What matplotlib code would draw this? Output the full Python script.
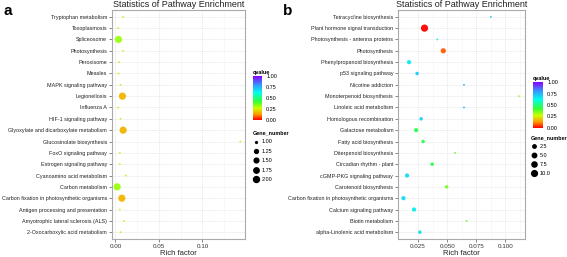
import numpy as np
import matplotlib
matplotlib.use('Agg')
import matplotlib.pyplot as plt
from matplotlib.colors import LinearSegmentedColormap, Normalize
from matplotlib.lines import Line2D
from matplotlib.colorbar import ColorbarBase

plt.rcParams['font.family'] = ['Liberation Sans', 'DejaVu Sans']

# panel a data (top to bottom)
a_pathways = ['Tryptophan metabolism', 'Toxoplasmosis', 'Spliceosome', 'Photosynthesis',
              'Peroxisome', 'Measles', 'MAPK signaling pathway', 'Legionellosis', 'Influenza A',
              'HIF-1 signaling pathway', 'Glyoxylate and dicarboxylate metabolism',
              'Glucosinolate biosynthesis', 'FoxO signaling pathway', 'Estrogen signaling pathway',
              'Cyanoamino acid metabolism', 'Carbon metabolism',
              'Carbon fixation in photosynthetic organisms', 'Antigen processing and presentation',
              'Amyotrophic lateral sclerosis (ALS)', '2-Oxocarboxylic acid metabolism']
a_rich = [0.0088, 0.0030, 0.0035, 0.0088, 0.0042, 0.0035, 0.0058, 0.0080, 0.0030, 0.0058,
          0.0088, 0.1436, 0.0050, 0.0050, 0.0119, 0.0019, 0.0073, 0.0050, 0.0099, 0.0058]
a_genes = [1, 1, 2, 1, 1, 1, 1, 2, 1, 1, 2, 1, 1, 1, 1, 2, 2, 1, 1, 1]
a_q = [0.30, 0.30, 0.32, 0.30, 0.30, 0.30, 0.30, 0.17, 0.30, 0.30,
       0.17, 0.30, 0.30, 0.30, 0.30, 0.32, 0.17, 0.30, 0.30, 0.30]
a_xticks = [0.00, 0.05, 0.10]
a_xticklabels = ['0.00', '0.05', '0.10']
a_size_breaks = [1.00, 1.25, 1.50, 1.75, 2.00]

# panel b data (top to bottom)
b_pathways = ['Tetracycline biosynthesis', 'Plant hormone signal transduction',
              'Photosynthesis - antenna proteins', 'Photosynthesis', 'Phenylpropanoid biosynthesis',
              'p53 signaling pathway', 'Nicotine addiction', 'Monoterpenoid biosynthesis',
              'Linoleic acid metabolism', 'Homologous recombination', 'Galactose metabolism',
              'Fatty acid biosynthesis', 'Diterpenoid biosynthesis', 'Circadian rhythm - plant',
              'cGMP-PKG signaling pathway', 'Carotenoid biosynthesis',
              'Carbon fixation in photosynthetic organisms', 'Calcium signaling pathway',
              'Biotin metabolism', 'alpha-Linolenic acid metabolism']
b_rich = [0.0876, 0.0305, 0.0415, 0.0467, 0.0172, 0.0241, 0.0645, 0.1118, 0.0645, 0.0276,
          0.0233, 0.0293, 0.0567, 0.0371, 0.0155, 0.0496, 0.0124, 0.0215, 0.0668, 0.0265]
b_genes = [1, 11, 1, 5, 3, 2, 1, 1, 1, 2, 3, 2, 1, 2, 3, 2, 3, 3, 1, 2]
b_q = [0.72, 0.00, 0.65, 0.08, 0.65, 0.70, 0.76, 0.33, 0.76, 0.70,
       0.45, 0.45, 0.38, 0.45, 0.68, 0.35, 0.68, 0.65, 0.38, 0.68]
b_xticks = [0.025, 0.050, 0.075, 0.100]
b_xticklabels = ['0.025', '0.050', '0.075', '0.100']
b_size_breaks = [2.5, 5.0, 7.5, 10.0]

cbar_ticks = [0.0, 0.25, 0.5, 0.75, 1.0]
cbar_labels = ['0.00', '0.25', '0.50', '0.75', '1.00']

cmap = LinearSegmentedColormap.from_list('qv', [
    (0.0, '#FF0000'), (0.13, '#FF9900'), (0.27, '#CCFF00'), (0.42, '#33FF33'),
    (0.62, '#00FFEE'), (0.8, '#3399FF'), (1.0, '#8800FF')])
norm = Normalize(0, 1)


def diam(v, vmin, vmax, dmin=1.3, dmax=5.2):
    # ggplot-like area scaling, returns diameter in points
    t = (np.asarray(v, float) - vmin) / (vmax - vmin)
    t = np.clip(t, 0, 1)
    return dmin + (dmax - dmin) * np.sqrt(t)


def draw_panel(rect, pathways, rich, genes, q, xlim, xticks, xticklabels, minor):
    ax = fig.add_axes(rect)
    n = len(pathways)
    ypos = np.arange(n)[::-1]
    vmin, vmax = min(genes), max(genes)
    ax.scatter(rich, ypos, s=diam(genes, vmin, vmax) ** 2, c=cmap(norm(q)),
               edgecolors='none', zorder=3, alpha=0.95)
    ax.set_xlim(xlim)
    ax.set_ylim(-0.6, n - 0.4)
    ax.set_yticks(ypos)
    ax.set_yticklabels(pathways, fontsize=3.9, color='#222222')
    ax.set_xticks(xticks)
    ax.set_xticklabels(xticklabels, fontsize=4.5, color='#333333')
    ax.set_xticks(minor, minor=True)
    ax.tick_params(axis='both', length=2, width=0.5, color='#555555', pad=1.5)
    ax.tick_params(axis='x', which='minor', length=0)
    ax.grid(True, which='major', color='#E6E6E6', lw=0.5, ls=(0, (2, 1)))
    ax.grid(True, which='minor', axis='x', color='#EEEEEE', lw=0.4, ls=(0, (2, 1)))
    ax.set_axisbelow(True)
    for sp in ax.spines.values():
        sp.set_color('#AAAAAA')
        sp.set_linewidth(0.8)
    ax.set_title('Statistics of Pathway Enrichment', fontsize=6.5, pad=2.5, color='#222222')
    ax.set_xlabel('Rich factor', fontsize=5.5, labelpad=0.5, color='#222222')
    return ax


def draw_legends(cb_rect, breaks, vmin, vmax, leg_xy, spacing):
    cax = fig.add_axes(cb_rect)
    cb = ColorbarBase(cax, cmap=cmap, norm=norm, ticks=cbar_ticks)
    cb.set_ticklabels(cbar_labels)
    cb.outline.set_visible(False)
    cax.tick_params(labelsize=4, length=1.5, width=0.4, color='white', pad=1.5)
    cax.set_title('qvalue', fontsize=4, fontweight='bold', loc='left', pad=1.5, x=-0.05)
    handles = [Line2D([], [], ls='none', marker='o', color='black',
                      markersize=d) for d in diam(breaks, vmin, vmax, 1.3, 4.3)]
    labels = ['%.2f' % b if vmax <= 2 else '%.1f' % b for b in breaks]
    leg = fig.legend(handles, labels, loc='upper left', bbox_to_anchor=leg_xy,
                     title='Gene_number', frameon=False, fontsize=4,
                     title_fontsize=3.9, labelspacing=spacing, handletextpad=0.3,
                     handlelength=1.2, borderpad=0, borderaxespad=0, alignment='left')
    leg.get_title().set_fontweight('bold')


W, H = 567, 257
fig = plt.figure(figsize=(W / 100, H / 100), dpi=100)


def frac(x0, y0, x1, y1):
    return [x0 / W, 1 - y1 / H, (x1 - x0) / W, (y1 - y0) / H]


draw_panel(frac(112, 10, 245, 239), a_pathways, a_rich, a_genes, a_q,
           (-0.004, 0.149), a_xticks, a_xticklabels, [0.025, 0.075, 0.125])
draw_legends(frac(253, 76, 262, 120), a_size_breaks, min(a_genes), max(a_genes),
             (253 / W, 1 - 130 / H), 0.8)

draw_panel(frac(398, 10, 525, 239), b_pathways, b_rich, b_genes, b_q,
           (0.0077, 0.117), b_xticks, b_xticklabels, [0.0375, 0.0625, 0.0875, 0.1125])
draw_legends(frac(533, 82, 543, 128), b_size_breaks, 1, max(b_genes),
             (531 / W, 1 - 135 / H), 0.7)

fig.text(3 / W, 1 - 4 / H, 'a', fontsize=11, fontweight='bold', va='top', ha='left')
fig.text(283 / W, 1 - 4 / H, 'b', fontsize=11, fontweight='bold', va='top', ha='left')

fig.savefig('out.png', dpi=100)
